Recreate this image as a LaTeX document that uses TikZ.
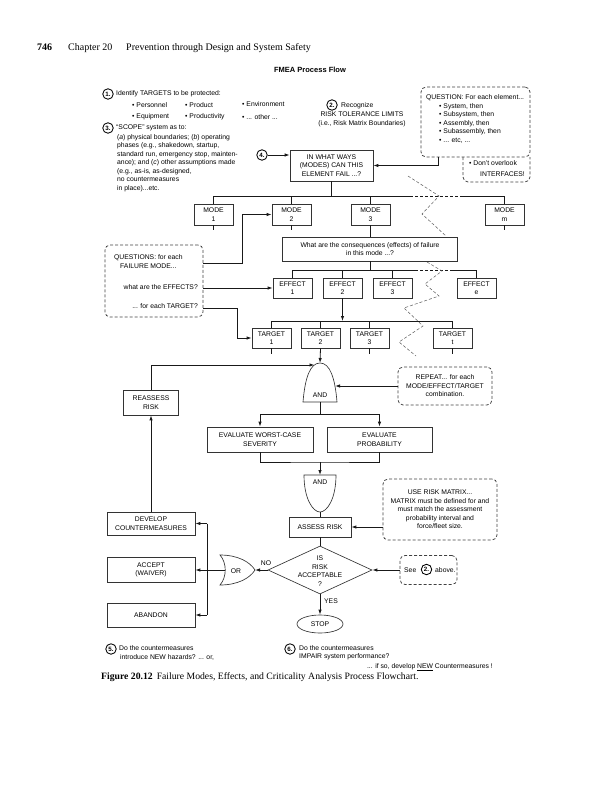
\documentclass[tikz,border=0pt]{standalone}
\usepackage{fontspec}
\newfontfamily\dsans{Liberation Sans}
\newfontfamily\dserif{Liberation Serif}
\usetikzlibrary{arrows.meta,shapes.geometric}
\begin{document}
\begin{tikzpicture}[x=1pt,y=-1pt,
  dtext/.style={font=\dsans\fontsize{6.8}{8.5}\selectfont, inner sep=0pt},
  txt/.style={dtext, anchor=west},
  box/.style={dtext, draw=black!80, line width=0.65pt, align=center},
  dbox/.style={draw=black!75, line width=0.75pt, dash pattern=on 3pt off 2pt, rounded corners=5pt, inner sep=0pt},
  conn/.style={draw=black!90, line width=0.8pt},
  arr/.style={conn, -{Latex[length=5pt,width=3.4pt]}},
  zig/.style={draw=black!65, line width=0.5pt, dash pattern=on 3pt off 2pt},
  gate/.style={draw=black!80, line width=0.65pt},
  num/.style={circle, draw, line width=0.85pt, inner sep=0pt, minimum size=10.5pt, font=\dsans\bfseries\fontsize{6.2}{7}\selectfont},
]
\useasboundingbox (0,0) rectangle (597,800);

% header
\node[anchor=base west, inner sep=0pt, font=\dserif\bfseries\fontsize{10}{12}\selectfont] (pg) at (37,51) {746};
\node[anchor=base west, inner sep=0pt, font=\dserif\fontsize{10}{12}\selectfont] (ch) at (68,51) {Chapter 20};
\node[anchor=base west, inner sep=0pt, font=\dserif\fontsize{10}{12}\selectfont] (hd) at (126,51) {Prevention through Design and System Safety};
\node[inner sep=0pt, font=\dsans\bfseries\fontsize{7.5}{9}\selectfont] (title) at (310,70) {FMEA Process Flow};

% left text block
\node[num] (n1) at (108,94) {1.};
\node[txt] (t1) at (116,94) {Identify TARGETS to be protected:};
\node[txt] (b1) at (132,105) {• Personnel};
\node[txt] (b2) at (185,105) {• Product};
\node[txt] (b3) at (242,104) {• Environment};
\node[txt] (b4) at (132,117) {• Equipment};
\node[txt] (b5) at (185,117) {• Productivity};
\node[txt] (b6) at (242,117) {• ... other ...};
\node[num] (n3) at (108,128) {3.};
\node[txt] (t3) at (116,128) {“SCOPE” system as to:};
\node[dtext, anchor=north west, align=left] (t3b) at (117,134) {(\textit{a}) physical boundaries; (\textit{b}) operating\\phases (e.g., shakedown, startup,\\standard run, emergency stop, mainten-\\ance); and (\textit{c}) other assumptions made\\(e.g., as-is, as-designed,\\no countermeasures\\in place)...etc.};

% item 2
\node[num] (n2) at (332,105) {2.};
\node[txt] (t2) at (341,106) {Recognize};
\node[dtext, align=center] (t2b) at (362,119.5) {RISK TOLERANCE LIMITS\\(i.e., Risk Matrix Boundaries)};

% question box
\node[dbox, minimum width=109pt, minimum height=70pt] (qb) at (475.5,122) {};
\node[txt] (qt) at (426,98) {QUESTION: For each element...};
\node[dtext, anchor=north west, align=left] (ql) at (439,103) {• System, then\\• Subsystem, then\\• Assembly, then\\• Subassembly, then\\• ... etc, ...};
\draw[dbox] (463,157) -- (463,182) -- (530,182) -- (530,157);
\node[txt] (ifa) at (469,163) {• Don’t overlook};
\node[dtext, anchor=east] (ifb) at (525,174) {INTERFACES!};

% in what ways
\node[num] (n4) at (262,155) {4.};
\node[box, minimum width=83pt, minimum height=31pt] (ww) at (331.5,165.5) {IN WHAT WAYS\\(MODES) CAN THIS\\ELEMENT FAIL ...?};
\draw[arr] (n4.east) -- (n4.east -| ww.west);
\coordinate (qa) at (438,157);
\draw[arr] (qa) |- (ww.east);

% modes
\node[box, minimum width=39pt, minimum height=21pt] (m1) at (213.5,214.5) {MODE\\1};
\node[box, minimum width=39pt, minimum height=21pt] (m2) at (291.5,214.5) {MODE\\2};
\node[box, minimum width=39pt, minimum height=21pt] (m3) at (370.5,214.5) {MODE\\3};
\node[box, minimum width=39pt, minimum height=21pt] (mm) at (504.5,214.5) {MODE\\m};
\draw[conn] (ww.south) -- (ww.south |- 0,196);
\draw[conn] (m1.north) -- (m1.north |- 0,196) -- (410,196);
\draw[conn, dash pattern=on 3pt off 2pt] (410,196) -- (462,196);
\draw[conn] (462,196) -- (mm.north |- 0,196) -- (mm.north);
\draw[conn] (m2.north) -- (m2.north |- 0,196);
\draw[conn] (m3.north) -- (m3.north |- 0,196);
\draw[conn] (m1.south) -- ++(0,5);
\draw[conn] (m2.south) -- ++(0,5);
\draw[conn] (mm.south) -- ++(0,5);

% consequences
\node[box, minimum width=175pt, minimum height=24pt] (cq) at (370,249) {What are the consequences (effects) of failure\\in this mode ...?};
\draw[conn] (m3.south) -- (m3.south |- cq.north);

% effects
\node[box, minimum width=39pt, minimum height=20pt] (e1) at (292.5,288) {EFFECT\\1};
\node[box, minimum width=39pt, minimum height=20pt] (e2) at (342.5,288) {EFFECT\\2};
\node[box, minimum width=39pt, minimum height=20pt] (e3) at (392.5,288) {EFFECT\\3};
\node[box, minimum width=39pt, minimum height=20pt] (ee) at (476.5,288) {EFFECT\\e};
\draw[conn] (cq.south) -- (cq.south |- 0,270);
\draw[conn] (e1.north) -- (e1.north |- 0,270) -- (415,270);
\draw[conn, dash pattern=on 3pt off 2pt] (415,270) -- (450,270);
\draw[conn] (450,270) -- (ee.north |- 0,270) -- (ee.north);
\draw[conn] (e2.north) -- (e2.north |- 0,270);
\draw[conn] (e3.north) -- (e3.north |- 0,270);

% targets
\node[box, minimum width=39pt, minimum height=20pt] (t1b) at (271.5,338) {TARGET\\1};
\node[box, minimum width=39pt, minimum height=20pt] (t2b) at (320.5,338) {TARGET\\2};
\node[box, minimum width=39pt, minimum height=20pt] (t3t) at (369.5,338) {TARGET\\3};
\node[box, minimum width=39pt, minimum height=20pt] (ttb) at (452.5,338) {TARGET\\t};
\draw[arr] (e2.south) -- (e2.south |- 0,321);
\draw[conn] (t1b.north) -- (t1b.north |- 0,321) -- (ttb.north |- 0,321) -- (ttb.north);
\draw[conn] (t2b.north) -- (t2b.north |- 0,321);
\draw[conn] (t3t.north) -- (t3t.north |- 0,321);
\draw[conn] (t1b.south) -- ++(0,6);
\draw[conn] (t3t.south) -- ++(0,6);
\draw[conn] (ttb.south) -- ++(0,6);

% zigzag break lines
\draw[zig] (408,176) -- (439,196) -- (422,214) -- (446,236);
\draw[zig] (427,262) -- (442,271) -- (425,284) -- (439,296) -- (404,308) -- (423,326) -- (399,342) -- (416,356);

% left question box
\node[dbox, minimum width=98pt, minimum height=72pt] (lq) at (154,281) {};
\node[txt] (lq1) at (114,258) {QUESTIONS: for each};
\node[txt] (lq2) at (120,266.5) {FAILURE MODE...};
\node[dtext, anchor=east] (lq3) at (198,287) {what are the EFFECTS?};
\node[dtext, anchor=east] (lq4) at (198,306) {... for each TARGET?};
\draw[arr] (lq.east |- 0,263) -- (242,263) |- (m2.west);
\draw[arr] (lq.east |- e1.west) -- (e1.west);
\draw[arr] (lq.east |- 0,308) -- (237,308) |- (t1b.west);

% AND gate 1
\draw[gate] (303,402) .. controls (305,378) and (310,363) .. (320,363) .. controls (330,363) and (335,378) .. (337,402) -- cycle;
\node[dtext] (and1) at (320,395) {AND};
\coordinate (g1t) at (320,363);
\coordinate (g1b) at (320,402);
\coordinate (g1l) at (314.5,365);
\coordinate (g1r) at (335,386);
\draw[arr] (t2b.south) -- (g1t);

% reassess / repeat
\node[box, minimum width=55pt, minimum height=25pt] (rr) at (151,402.5) {REASSESS\\RISK};
\draw[arr] (rr.north) |- (g1l);
\node[dbox, dtext, minimum width=94pt, minimum height=38pt, align=center] (rp) at (445,386) {REPEAT... for each\\MODE/EFFECT/TARGET\\combination.};
\draw[arr] (rp.west) -- (g1r);

% evaluate
\node[box, minimum width=106pt, minimum height=25pt] (ev1) at (260,439.5) {EVALUATE WORST-CASE\\SEVERITY};
\node[box, minimum width=105pt, minimum height=25pt] (ev2) at (379.5,439.5) {EVALUATE\\PROBABILITY};
\coordinate (s1) at (320,414);
\draw[conn] (g1b) -- (s1);
\draw[arr] (s1) -| (ev1.north);
\draw[arr] (s1) -| (ev2.north);
\coordinate (s2) at (320,462);
\draw[conn] (ev1.south) |- (s2) -| (ev2.south);

% AND gate 2
\draw[gate] (304,475) -- (336,475) .. controls (336,499) and (327,512) .. (320,512) .. controls (313,512) and (304,499) .. (304,475) -- cycle;
\node[dtext] (and2) at (320,482) {AND};
\coordinate (g2t) at (320,475);
\coordinate (g2b) at (320,512);
\draw[arr] (s2) -- (g2t);

% assess risk
\node[box, minimum width=62pt, minimum height=20pt] (ar) at (320,527) {ASSESS RISK};
\draw[conn] (g2b) -- (ar.north);
\node[dbox, dtext, minimum width=114pt, minimum height=61pt, align=center] (um) at (440,509.5) {USE RISK MATRIX...\\MATRIX must be defined for and\\must match the assessment\\probability interval and\\force/fleet size.};
\draw[arr] (um.west |- ar.east) -- (ar.east);

% decision
\node[diamond, draw=black!80, line width=0.65pt, inner sep=0pt, minimum width=104pt, minimum height=48pt] (dm) at (320,570) {};
\node[dtext, align=center] (dmt) at (320,571) {IS\\RISK\\ACCEPTABLE\\?};
\draw[conn] (ar.south) -- (dm.north);

% OR gate
\draw[gate] (220,555) .. controls (238,555) and (250,562) .. (255,570) .. controls (250,578) and (238,585) .. (220,585) .. controls (227,577) and (227,563) .. (220,555) -- cycle;
\node[dtext] (orl) at (236,571) {OR};
\coordinate (ort) at (255,570);
\coordinate (orb) at (225.3,570);
\draw[arr] (dm.west) -- (ort);
\node[dtext] (nol) at (266,563) {NO};

% left outcome boxes
\node[box, minimum width=88pt, minimum height=23pt] (dv) at (151,523.5) {DEVELOP\\COUNTERMEASURES};
\node[box, minimum width=88pt, minimum height=25pt] (ac) at (151,570) {ACCEPT\\(WAIVER)};
\node[box, minimum width=88pt, minimum height=24pt] (ab) at (151,615) {ABANDON};
\coordinate (vt) at (207,523.5);
\coordinate (vb) at (207,615);
\draw[conn] (vt) -- (vb);
\draw[arr] (vt) -- (dv.east);
\draw[arr] (vb) -- (ab.east);
\draw[arr] (orb) -- (ac.east);
\draw[arr] (dv.north) -- (rr.south);

% see box
\node[dbox, minimum width=57pt, minimum height=29pt] (sb) at (428.5,570) {};
\node[txt] (see) at (404,570) {See};
\node[num] (n2b) at (426.5,569.5) {2.};
\node[txt] (abv) at (435,570) {above.};
\draw[arr] (sb.west) -- (dm.east);

% stop
\node[ellipse, draw=black!80, line width=0.65pt, inner sep=0pt, minimum width=46pt, minimum height=18pt, dtext] (stop) at (320,624) {STOP};
\draw[arr] (dm.south) -- (stop.north);
\node[txt] (yes) at (324,601) {YES};

% bottom notes
\node[num] (n5) at (111,649) {5.};
\node[txt] (t5) at (119,648) {Do the countermeasures};
\node[txt] (t5b) at (120,657) {introduce NEW hazards? ... or,};
\node[num] (n6) at (290,649) {6.};
\node[txt] (t6) at (299,648) {Do the countermeasures};
\node[txt] (t6b) at (299,657) {IMPAIR system performance?};
\node[dtext, anchor=east] (t6c) at (493,667) {... if so, develop \underline{NEW} Countermeasures !};

% caption
\node[anchor=base west, inner sep=0pt, font=\dserif\fontsize{9.7}{11}\selectfont] (cap) at (101,679) {\textbf{Figure 20.12}\hspace{4pt}Failure Modes, Effects, and Criticality Analysis Process Flowchart.};
\end{tikzpicture}
\end{document}
